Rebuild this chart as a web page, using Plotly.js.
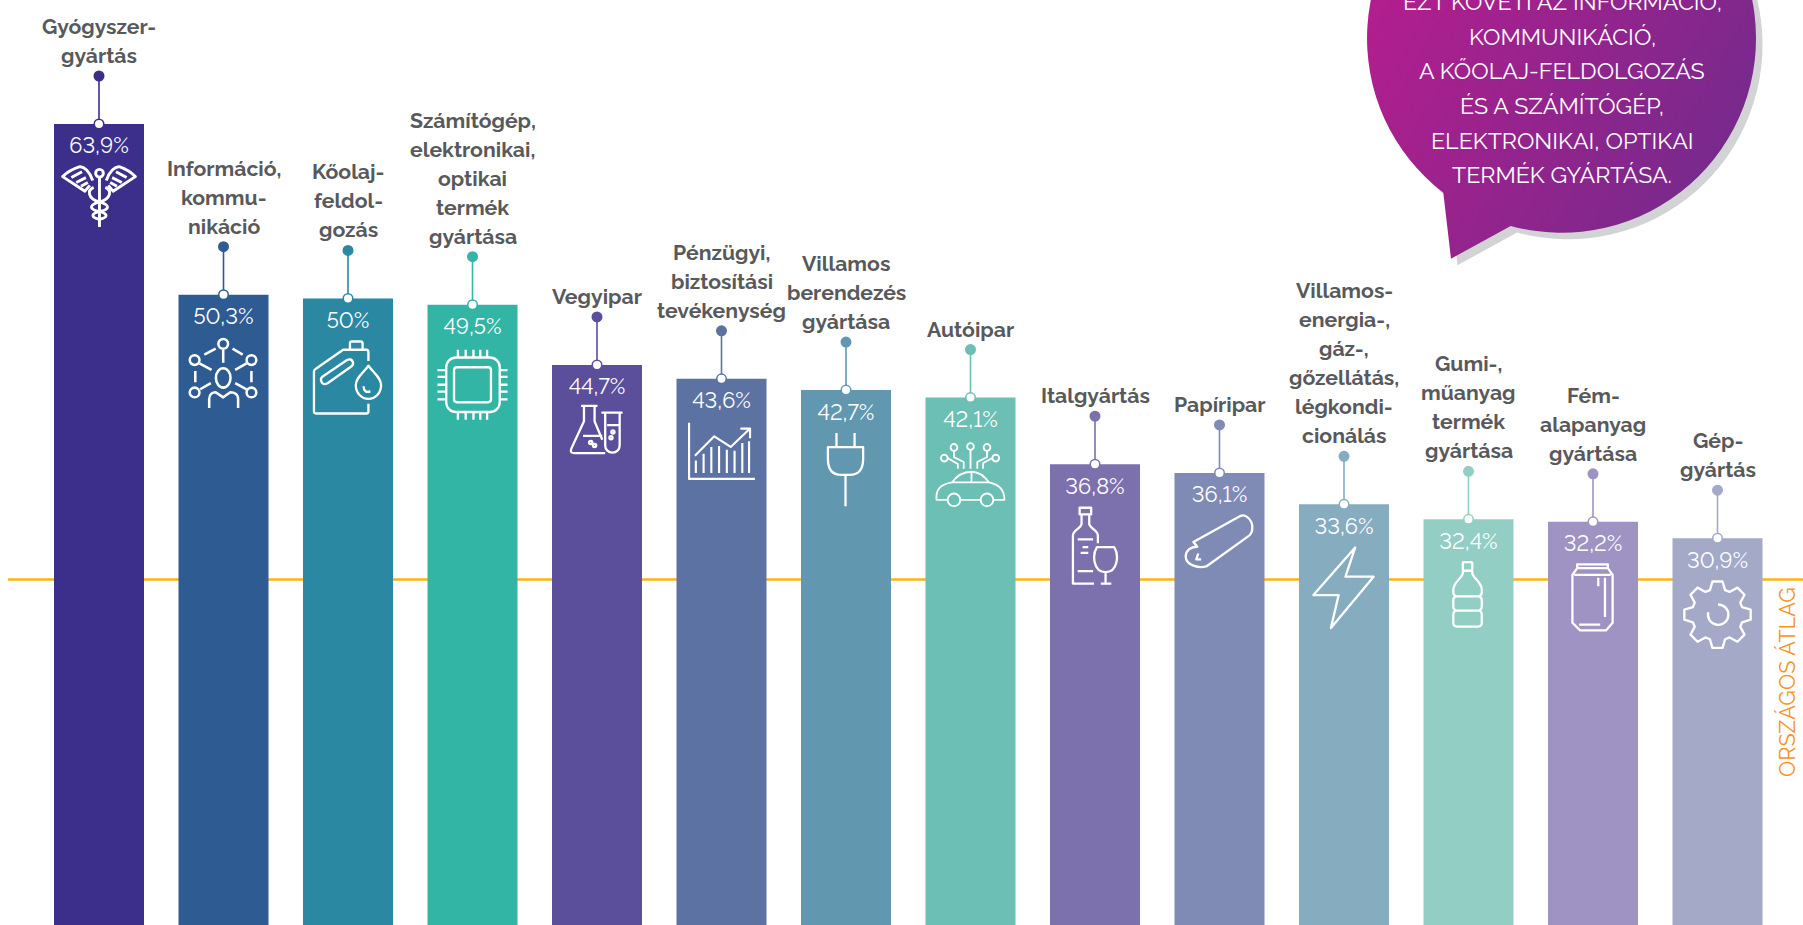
<!DOCTYPE html>
<html lang="hu">
<head>
<meta charset="utf-8">
<title>Iparági adatok</title>
<script src="https://cdn.plot.ly/plotly-3.0.1.min.js"></script>
<style>
html,body{margin:0;padding:0;background:#fff;overflow:hidden}
#chart{width:1803px;height:925px}
svg text{font-feature-settings:"lnum" 1 !important}
</style>
</head>
<body>
<div id="chart"></div>
<script>
// Industries, in the order they appear along the axis
const industries = [
  'Gyógyszer-<br>gyártás',
  'Információ,<br>kommu-<br>nikáció',
  'Kőolaj-<br>feldol-<br>gozás',
  'Számítógép,<br>elektronikai,<br>optikai<br>termék<br>gyártása',
  'Vegyipar',
  'Pénzügyi,<br>biztosítási<br>tevékenység',
  'Villamos<br>berendezés<br>gyártása',
  'Autóipar',
  'Italgyártás',
  'Papíripar',
  'Villamos-<br>energia-,<br>gáz-,<br>gőzellátás,<br>légkondi-<br>cionálás',
  'Gumi-,<br>műanyag<br>termék<br>gyártása',
  'Fém-<br>alapanyag<br>gyártása',
  'Gép-<br>gyártás'
];
const shares = [63.9, 50.3, 50, 49.5, 44.7, 43.6, 42.7, 42.1, 36.8, 36.1, 33.6, 32.4, 32.2, 30.9];
const barColors = ['#3B2F8B', '#2E5C92', '#2B88A2', '#33B5A6', '#5B4E9A', '#5C72A2', '#6198B0', '#6BBFB4',
                   '#7C70AD', '#7F8AB5', '#86ACC0', '#92CEC4', '#9E93C2', '#A3A9C7'];
const nationalAverage = 27.6;
const averageLabel = 'ORSZÁGOS ÁTLAG';
const calloutLines = ['EZT KÖVETI AZ INFORMÁCIÓ,', 'KOMMUNIKÁCIÓ,', 'A KŐOLAJ-FELDOLGOZÁS',
                      'ÉS A SZÁMÍTÓGÉP,', 'ELEKTRONIKAI, OPTIKAI', 'TERMÉK GYÁRTÁSA.'];

// Canvas and scale
const W = 1803, H = 925;
const STEP = 124.5, FIRST = 99, UNIT = 12.55;      // px per category, first centre, px per percent
const PIN = 48 / UNIT;                             // pin height in axis units
const LINE_GAP = 29;                               // label leading in px
const LABEL_FONT = 'Raleway, Lato, sans-serif';
const INK = '#58595B';

const idx = shares.map((_, i) => i);
const pct = v => String(v).replace('.', ',') + '%';

// Line icons, one per industry, drawn in their own px box
function gearPath(cx, cy, ro, ri) {
  let d = '';
  for (let k = 0; k < 8; k++) {
    const a = k * Math.PI / 4 - Math.PI / 2;
    const pts = [[ri, -0.30], [ro, -0.15], [ro, 0.15], [ri, 0.30]];
    pts.forEach(p => {
      const x = cx + p[0] * Math.cos(a + p[1]), y = cy + p[0] * Math.sin(a + p[1]);
      d += (d ? 'L' : 'M') + x.toFixed(1) + ' ' + y.toFixed(1);
    });
  }
  return d + 'Z';
}
const icons = [
  {w:77, h:65, off:40, sw:3, body:`
    <circle cx="39" cy="8.5" r="4"/><path d="M39 13V64"/>
    <path d="M32 16C29 7 23 1 18 2C12 4 5 8 1 12L24 27L29 21"/>
    <path d="M46 16C49 7 55 1 60 2C66 4 72 8 76 12L53 27L48 21"/>
    <path d="M10 13L21 7M15 18L25 13M20 22L27 18M67 13L56 7M62 18L52 13M57 22L50 18"/>
    <path d="M33 23C26 26 27 35 39 38C50 41 50 46 39 48C30 50 30 54 39 56"/>
    <path d="M45 23C52 26 51 35 39 38C28 41 28 46 39 48C48 50 48 54 39 56"/>`},
  {w:72, h:74, off:42, sw:2.6, body:`
    <circle cx="35.7" cy="6.3" r="5"/><circle cx="6.3" cy="23" r="5"/><circle cx="64.7" cy="23" r="5"/>
    <circle cx="6.3" cy="56.3" r="5"/><circle cx="64.7" cy="56.3" r="5"/>
    <ellipse cx="35.7" cy="41.3" rx="7.5" ry="10"/>
    <path d="M21.3 72.3V63C21.3 58 25 56 28 56L35.7 61.3L43 56C47 56 51 58 51 63V72.3"/>
    <path d="M35.7 12.3V25.7M16.3 17.3L28 11.3M45.3 11.3L55.7 17.3M11.3 26.3L23.7 33M48 33L59.7 26.3
             M7 34.3V45.7M64.7 34.3V45.7M12 53L23 46.7M48 46.7L59.7 53"/>`},
  {w:72, h:76, off:41, sw:2.4, body:`
    <path d="M57 65V73Q57 75 55 75H3Q1 75 1 73V32Q1 30 3 29L31 9.5H55Q57 9.5 57 12V21"/>
    <path d="M38 9V3Q38 1 40 1H49Q51 1 51 3V9"/>
    <path d="M10 37L35 20Q39 18 41 22Q42 25 39 27L15 44Q11 46 9 43Q7 39 10 37Z"/>
    <path d="M57 26C62 33 70 38 70 46C70 54 64 60 57 60C50 60 44 54 44 46C44 38 52 33 57 26Z"/>
    <path d="M52 47C52 52 55 54 59 52"/>`},
  {w:72, h:74, off:43, sw:2.4, body:`
    <rect x="9" y="9" width="55" height="56" rx="10"/><rect x="17" y="19" width="38" height="36" rx="3"/>
    <path d="M21 1V9M29 1V9M37 1V9M44 1V9M51 1V9M21 65V73M29 65V73M37 65V73M44 65V73M51 65V73
             M0 22H9M0 29H9M0 37H9M0 44H9M0 52H9M64 22H72M64 29H72M64 37H72M64 44H72M64 52H72"/>`},
  {w:57, h:55, off:39, sw:2.4, body:`
    <path d="M12 1H29M15 1V17L2 45Q0 50 5 50H37M26 1V17L34 36M14 32H34"/>
    <circle cx="22" cy="39" r="1.7"/><circle cx="26" cy="42" r="1.7"/>
    <path d="M33 8H55M37 8V42A7.5 7.5 0 0 0 52 42V8M39 21H52"/>
    <circle cx="45" cy="28" r="1.6"/><circle cx="43" cy="34" r="1.6"/>`},
  {w:69, h:60, off:43, sw:2.2, body:`
    <path d="M1 0V58H69M8 52V39M16 52V32M24 52V25M32 52V24M40 52V28M48 52V29M56 52V21M63 52V19"/>
    <path d="M7 34L27 14L44 25L64 6M54 6H64V16"/>`},
  {w:40, h:78, off:41, sw:2.4, body:`
    <path d="M10 0V15M29 0V15M1 15H38V27Q38 44 24 44H15Q1 44 1 27ZM19.5 44V77"/>`},
  {w:72, h:66, off:44, sw:1.9, body:`
    <circle cx="19" cy="5" r="3.5"/><circle cx="36" cy="4" r="3.5"/><circle cx="53" cy="5" r="3.5"/>
    <circle cx="9" cy="16" r="3.5"/><circle cx="62" cy="16" r="3.5"/>
    <path d="M19 8.5V15L29 20V27M36 7.5V27M53 8.5V15L43 20V27M12.5 16L23 22V27M58.5 16L49 21V27"/>
    <circle cx="19" cy="59" r="6.5"/><circle cx="53" cy="59" r="6.5"/>
    <path d="M12.5 59H1C0 48 5 43 17 41C22 34 29 30 37 30C45 30 50 34 55 41C65 43 71 48 71 59H59.5M25.5 59H46.5M17 41H55M37 30V41"/>`},
  {w:48, h:83, off:41, sw:2.4, body:`
    <rect x="8" y="1" width="12" height="7"/>
    <path d="M10 8V18C9 23 1 24 1 30V80H23M18 8V18C19 23 27 24 27 30V38"/>
    <path d="M6 34H22M11 42H17M9 48H17M6 67H22"/>
    <path d="M26 42H44C49 50 48 68 35 68C22 68 21 50 26 42ZM35 68V80M30 80H41"/>`},
  {w:72, h:56, off:41, sw:2.4, body:`
    <path d="M9 28L58 1C63 -1 70 5 70 13C70 18 69 20 66 22L23 53C15 56 1 52 1 43C1 37 6 33 13 33ZM13 33L9 28M14 40L12 46H17"/>`},
  {w:65, h:85, off:41, sw:2.4, body:`<path d="M44 1L1 50H27L19 84L63 31H34Z"/>`},
  {w:36, h:73, off:40, sw:2.4, body:`
    <rect x="12" y="1" width="10" height="9" rx="1"/>
    <path d="M12 10V13C10 19 2 22 2 30V33Q2 36 5 37Q2 38 2 41V48Q2 51 5 52Q2 53 2 56V65Q2 69 6 69H28Q32 69 32 65V56Q32 53 29 52Q32 51 32 48V41Q32 38 29 37Q32 36 32 33V30C32 22 24 19 22 13V10M5 37H29M5 52H29"/>`},
  {w:45, h:71, off:40, sw:2.4, body:`
    <path d="M6 1H38V5L43 12V62L36 70H9L1 62V12L6 5ZM6 5H38M3 12H41M8 64H30M35 15V56M28 15V24"/>`},
  {w:71, h:71, off:41, sw:2.4, body:`
    <path d="${gearPath(35.5, 35.5, 34.5, 26.5)}"/>
    <path d="M36 25A10.5 10.5 0 1 1 26 33"/>`}
];
const iconUri = ic => 'data:image/svg+xml;charset=utf-8,' + encodeURIComponent(
  `<svg xmlns="http://www.w3.org/2000/svg" width="${ic.w}" height="${ic.h}" viewBox="-1 -1 ${ic.w + 2} ${ic.h + 2}" fill="none" stroke="#fff" stroke-width="${ic.sw}" stroke-linejoin="round">${ic.body}</svg>`);

// Speech bubble with its drop shadow
const BUB = {x: 1360, w: 410, h: 270};
const bubblePath = 'M83.3 192.7A194.5 194.5 0 1 1 150.7 226L91 258.7Z';
const bubbleUri = 'data:image/svg+xml;charset=utf-8,' + encodeURIComponent(
  `<svg xmlns="http://www.w3.org/2000/svg" width="${BUB.w}" height="${BUB.h}" viewBox="0 0 ${BUB.w} ${BUB.h}">
   <defs><linearGradient id="g" gradientUnits="userSpaceOnUse" x1="20" y1="10" x2="360" y2="200">
     <stop offset="0" stop-color="#B11E8E"/><stop offset="1" stop-color="#752A8C"/></linearGradient></defs>
   <path d="${bubblePath}" fill="#D1D3D4" transform="translate(6.5 6.5)"/>
   <path d="${bubblePath}" fill="url(#g)"/></svg>`);

// Traces: bars first, then a pin per bar, then the value labels
const traces = [{
  type: 'bar', x: idx, y: shares, width: 90 / STEP,
  marker: {color: barColors, line: {width: 0}}, hoverinfo: 'skip'
}];
idx.forEach(i => traces.push({
  type: 'scatter', mode: 'lines+markers', x: [i, i], y: [shares[i], shares[i] + PIN],
  line: {color: barColors[i], width: 1.6},
  marker: {size: 9.5, opacity: 1, color: ['#fff', barColors[i]],
           line: {width: 1.5, color: barColors[i]}},
  hoverinfo: 'skip', cliponaxis: false
}));
traces.push({
  type: 'scatter', mode: 'text', x: idx, y: shares.map(v => v - 24 / UNIT),
  text: shares.map(pct), textposition: 'middle center',
  textfont: {family: LABEL_FONT, size: 21.8, color: '#fff'}, hoverinfo: 'skip'
});

// Industry names sit above the pins, one annotation per line to control the leading
const annotations = [];
idx.forEach(i => {
  const lines = industries[i].split('<br>');
  lines.forEach((t, k) => annotations.push({
    x: i, y: shares[i] + PIN, xref: 'x', yref: 'y', xanchor: 'center', yanchor: 'middle',
    yshift: 20.5 + LINE_GAP * (lines.length - 1 - k),
    text: t, showarrow: false,
    font: {family: LABEL_FONT, size: 21.2, color: INK, weight: 700}
  }));
});
const calloutY = [1.2, 36.2, 70.2, 105.5, 140.5, 174.2];
calloutLines.forEach((t, k) => annotations.push({
  x: 1562 / W, y: 1 - calloutY[k] / H, xref: 'paper', yref: 'paper', xanchor: 'center', yanchor: 'middle',
  text: t, showarrow: false, font: {family: LABEL_FONT, size: 23.2, color: '#fff'}
}));
annotations.push({
  x: 1787 / W, y: 1 - 682 / H, xref: 'paper', yref: 'paper', xanchor: 'center', yanchor: 'middle', textangle: -90,
  text: averageLabel, showarrow: false, font: {family: LABEL_FONT, size: 21.7, color: '#F7941E'}
});

const images = idx.map(i => ({
  source: iconUri(icons[i]), xref: 'x', yref: 'y', x: i, y: shares[i] - icons[i].off / UNIT,
  sizex: icons[i].w / STEP, sizey: icons[i].h / UNIT, xanchor: 'center', yanchor: 'top',
  sizing: 'stretch', layer: 'above'
}));
images.push({
  source: bubbleUri, xref: 'paper', yref: 'paper', x: BUB.x / W, y: 1, sizex: BUB.w / W, sizey: BUB.h / H,
  xanchor: 'left', yanchor: 'top', sizing: 'stretch', layer: 'above'
});

const layout = {
  width: W, height: H, margin: {l: 0, r: 0, t: 0, b: 0},
  paper_bgcolor: '#fff', plot_bgcolor: '#fff', showlegend: false,
  xaxis: {range: [-FIRST / STEP, (W - FIRST) / STEP], visible: false, fixedrange: true},
  yaxis: {range: [0.08, 73.78], visible: false, fixedrange: true},
  shapes: [{
    type: 'line', layer: 'below', xref: 'x', yref: 'y',
    x0: (8 - FIRST) / STEP, x1: (W - FIRST) / STEP, y0: nationalAverage, y1: nationalAverage,
    line: {color: '#FBB415', width: 2.5}
  }],
  annotations, images
};

Plotly.newPlot('chart', traces, layout, {displayModeBar: false, staticPlot: true});
</script>
</body>
</html>
